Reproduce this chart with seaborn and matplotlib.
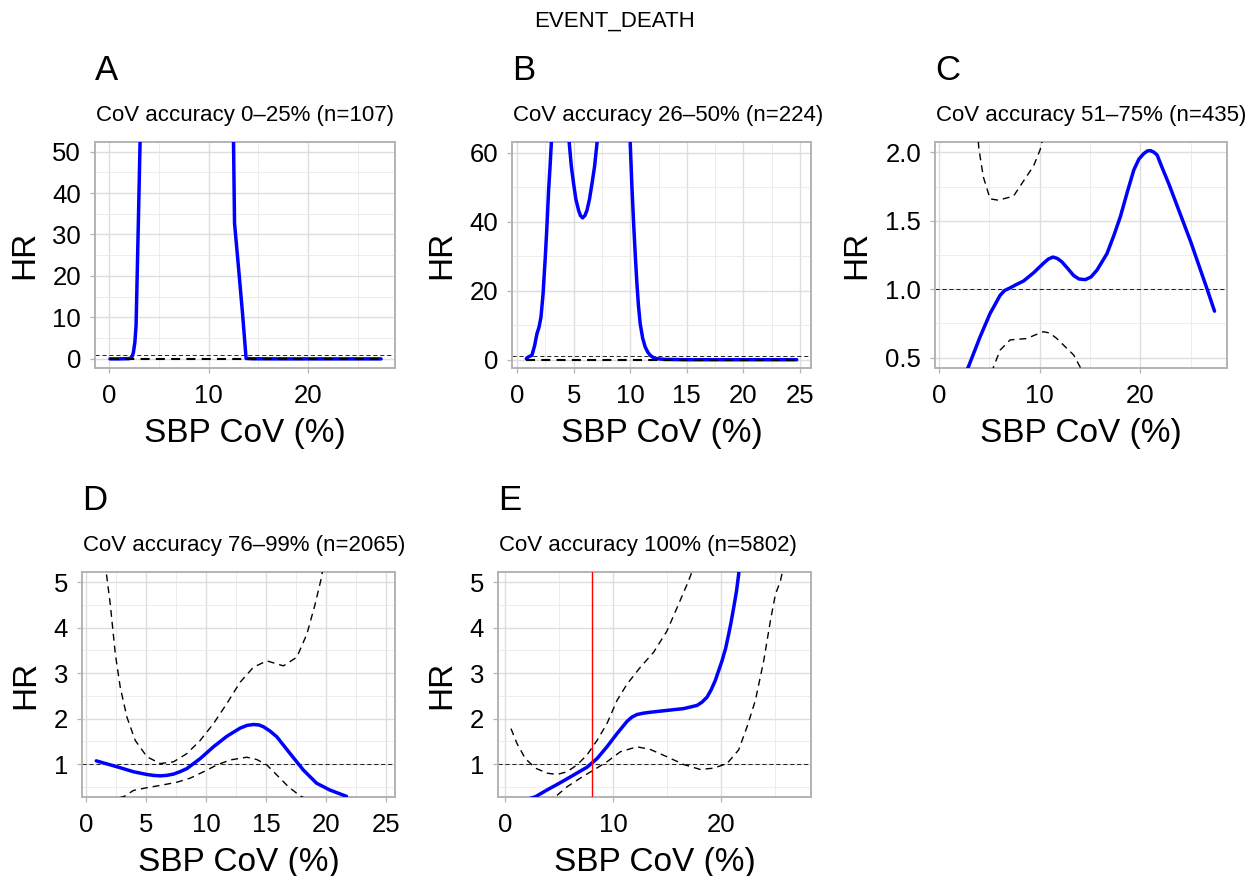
import numpy as np
import pandas as pd
import matplotlib
matplotlib.use("Agg")
import matplotlib.pyplot as plt
from matplotlib.ticker import MultipleLocator
import seaborn as sns

# ---------------- data ----------------
titles = ["CoV accuracy 0\u201325% (n=107)", "CoV accuracy 26\u201350% (n=224)",
          "CoV accuracy 51\u201375% (n=435)", "CoV accuracy 76\u201399% (n=2065)",
          "CoV accuracy 100% (n=5802)"]
letters = ["A", "B", "C", "D", "E"]

# Panel A
a_x = [0.1, 1.0, 2.0, 2.28, 2.45, 2.6, 2.72, 2.85, 2.95, 3.12, 3.4, 5.0, 8.0, 11.0, 12.3, 12.5, 12.6, 13.0, 13.4, 13.76, 14.5, 18.0, 22.0, 27.3]
a_hr = [0.0, 0.0, 0.05, 0.3, 1.5, 4.0, 8.0, 22.0, 33.0, 52.0, 150.0, 600.0, 900.0, 400.0, 90.0, 52.0, 32.7, 22.0, 11.0, 0.1, 0.02, 0.0, 0.0, 0.0]
a_lo_x = [0.1, 27.3]
a_lo = [0.0, 0.0]

# Panel B
b_x = [0.82, 1.0, 1.32, 1.55, 1.76, 1.95, 2.12, 2.3, 2.5, 2.65, 2.79, 2.92, 3.03, 3.4, 3.8, 4.2,
       4.62, 4.8, 5.0, 5.2, 5.44, 5.6, 5.79, 6.0, 6.18, 6.4, 6.62, 6.85, 7.06, 7.6, 8.5, 9.4,
       10.0, 10.15, 10.3, 10.45, 10.59, 10.73, 10.88, 11.1, 11.32, 11.55, 11.76, 12.0, 12.35, 13.0, 15.0, 20.0, 24.7]
b_hr = [0.3, 0.8, 1.3, 4.0, 7.5, 9.5, 12.4, 19.0, 29.8, 39.0, 49.0, 56.0, 62.6, 80.0, 90.0, 80.0,
        62.6, 56.0, 51.0, 46.5, 43.3, 41.8, 41.1, 41.8, 43.3, 46.5, 51.0, 56.0, 62.6, 120.0, 250.0, 150.0,
        62.6, 50.0, 39.4, 30.0, 22.0, 15.5, 10.4, 6.2, 3.7, 2.2, 1.3, 0.7, 0.3, 0.1, 0.0, 0.0, 0.0]
b_lo_x = [0.82, 24.7]
b_lo = [0.0, 0.0]

# Panel C
c_x = [1.0, 2.92, 4.08, 5.07, 6.07, 6.5, 7.06, 7.7, 8.39, 9.39, 10.38, 10.85, 11.31, 11.75, 12.2, 12.8,
       13.37, 13.9, 14.53, 15.1, 15.69, 16.68, 17.35, 18.01, 18.7, 19.34, 19.85, 20.33, 20.7, 21.0, 21.35,
       21.66, 22.2, 22.82, 24.98, 26.63, 27.36]
c_hr = [0.15, 0.434, 0.653, 0.823, 0.956, 0.99, 1.01, 1.035, 1.06, 1.12, 1.19, 1.22, 1.235, 1.225, 1.20, 1.15,
        1.10, 1.075, 1.07, 1.09, 1.14, 1.26, 1.39, 1.53, 1.71, 1.87, 1.95, 1.99, 2.01, 2.012, 2.0,
        1.98, 1.88, 1.77, 1.35, 1.0, 0.84]
c_up_x = [1.0, 3.5, 3.75, 3.95, 4.4, 5.07, 5.9, 7.4, 8.39, 9.39, 10.05, 10.6, 15.0, 20.0, 27.36]
c_up = [4.0, 2.5, 2.25, 2.03, 1.82, 1.66, 1.65, 1.68, 1.79, 1.90, 2.02, 2.2, 3.0, 4.5, 6.0]
c_lo_x = [1.0, 5.0, 5.4, 6.07, 7.06, 8.72, 9.5, 10.38, 11.0, 11.7, 13.37, 14.03, 15.0, 20.0, 27.36]
c_lo = [0.1, 0.33, 0.43, 0.556, 0.63, 0.64, 0.665, 0.69, 0.68, 0.64, 0.52, 0.43, 0.33, 0.2, 0.1]

# Panel D
d_x = [0.83, 2.56, 3.94, 5.06, 5.6, 6.17, 6.7, 7.28, 7.8, 8.39, 9.5, 10.61, 11.72, 12.83, 13.4, 13.94,
       14.4, 14.78, 15.3, 15.89, 17.0, 18.1, 19.2, 20.3, 21.7]
d_hr = [1.07, 0.94, 0.83, 0.77, 0.75, 0.74, 0.75, 0.78, 0.83, 0.9, 1.12, 1.38, 1.61, 1.79, 1.85, 1.87,
        1.86, 1.82, 1.73, 1.6, 1.23, 0.87, 0.58, 0.43, 0.29]
d_up_x = [0.83, 1.2, 1.5, 1.67, 2.0, 2.42, 2.83, 3.39, 4.08, 5.06, 6.17, 7.28, 8.39, 9.5, 10.61, 11.72,
          12.83, 13.94, 15.06, 16.44, 17.56, 18.4, 19.08, 19.64, 20.5, 21.7]
d_up = [12.0, 8.0, 6.0, 5.2, 4.51, 3.42, 2.69, 2.03, 1.52, 1.16, 1.01, 1.05, 1.23, 1.52, 1.89, 2.33,
        2.80, 3.13, 3.27, 3.16, 3.35, 3.86, 4.51, 5.13, 7.0, 12.0]
d_lo_x = [0.83, 2.0, 3.17, 3.94, 5.06, 6.17, 7.56, 8.67, 9.78, 10.89, 12.0, 13.39, 14.22, 15.06, 15.89,
          16.86, 17.83, 19.0, 21.7]
d_lo = [0.1, 0.2, 0.29, 0.42, 0.48, 0.53, 0.6, 0.69, 0.83, 0.98, 1.09, 1.15, 1.1, 0.98, 0.76,
        0.5, 0.30, 0.15, 0.05]

# Panel E
e_x = [0.6, 2.78, 3.86, 5.09, 6.33, 7.56, 8.49, 9.41, 10.34, 11.27, 11.7, 12.19, 12.8, 13.43, 14.97,
       16.51, 17.75, 18.2, 18.67, 19.05, 19.44, 20.06, 20.4, 20.68, 20.9, 21.14, 21.4, 21.6, 22.2, 25.9]
e_hr = [0.12, 0.28, 0.43, 0.59, 0.76, 0.93, 1.12, 1.38, 1.67, 1.94, 2.03, 2.09, 2.12, 2.14, 2.18,
        2.22, 2.29, 2.36, 2.47, 2.63, 2.84, 3.27, 3.55, 3.86, 4.12, 4.44, 4.8, 5.17, 7.0, 20.0]
e_up_x = [0.52, 1.08, 1.85, 2.78, 3.86, 4.78, 5.71, 6.64, 7.56, 8.49, 9.41, 10.34, 11.27, 12.5, 13.73,
          14.97, 15.9, 16.82, 17.19, 18.0, 20.0, 25.9]
e_up = [1.78, 1.45, 1.12, 0.91, 0.80, 0.77, 0.83, 0.98, 1.2, 1.52, 1.89, 2.40, 2.76, 3.13, 3.46,
        3.93, 4.44, 4.95, 5.17, 6.0, 9.0, 30.0]
e_lo_x = [0.52, 3.0, 4.63, 5.71, 6.94, 8.18, 9.41, 10.65, 12.19, 13.43, 14.97, 16.51, 18.06, 19.29,
          20.52, 21.6, 22.38, 23.15, 23.92, 24.54, 25.0, 25.46, 25.9]
e_lo = [0.05, 0.18, 0.28, 0.5, 0.69, 0.87, 1.05, 1.27, 1.38, 1.32, 1.16, 0.99, 0.88, 0.91,
        1.01, 1.31, 1.82, 2.4, 3.27, 4.15, 4.73, 5.02, 5.5]
e_cut = 8.0

panels = [
    dict(x=a_x, hr=a_hr, up=None, lo=(a_lo_x, a_lo), xlim=(-1.4, 28.7), ylim=(-2.2, 52.3),
         xmaj=10, xmin=5, ymaj=10, ymin=5, yfmt="{:.0f}", flat_ci=True),
    dict(x=b_x, hr=b_hr, up=None, lo=(b_lo_x, b_lo), xlim=(-0.44, 25.96), ylim=(-2.4, 63.1),
         xmaj=5, xmin=2.5, ymaj=20, ymin=10, yfmt="{:.0f}", flat_ci=True),
    dict(x=c_x, hr=c_hr, up=(c_up_x, c_up), lo=(c_lo_x, c_lo), xlim=(-0.4, 28.6), ylim=(0.425, 2.075),
         xmaj=10, xmin=5, ymaj=0.5, ymin=0.25, yfmt="{:.1f}", flat_ci=False),
    dict(x=d_x, hr=d_hr, up=(d_up_x, d_up), lo=(d_lo_x, d_lo), xlim=(-0.36, 25.75), ylim=(0.275, 5.225),
         xmaj=5, xmin=2.5, ymaj=1, ymin=0.5, yfmt="{:.0f}", flat_ci=False),
    dict(x=e_x, hr=e_hr, up=(e_up_x, e_up), lo=(e_lo_x, e_lo), xlim=(-0.68, 28.3), ylim=(0.275, 5.225),
         xmaj=10, xmin=5, ymaj=1, ymin=0.5, yfmt="{:.0f}", flat_ci=False),
]

# ---------------- style ----------------
sns.set_theme(style="white")
plt.rcParams['font.family'] = ['Liberation Sans', 'DejaVu Sans']
plt.rcParams['lines.scale_dashes'] = False
plt.rcParams['text.color'] = 'black'
plt.rcParams['axes.labelcolor'] = 'black'

W, H = 1255, 876
fig = plt.figure(figsize=(W / 100, H / 100), dpi=100)

# axes boxes in pixels: left, top, right, bottom
boxes = [(95, 142, 395, 368), (512, 142, 811, 368), (935, 142, 1227, 368),
         (82, 572, 395, 797), (498, 572, 811, 797)]

grey70 = "#B3B3B3"
ci_style = (0, (5.0, 3.6))
ci_flat_style = (0, (6.5, 4.5))
ref_style = (0, (3.0, 2.0))

for i, (p, box) in enumerate(zip(panels, boxes)):
    l, t, r, b = box
    ax = fig.add_axes([l / W, 1 - b / H, (r - l) / W, (b - t) / H])
    ax.set_xlim(*p["xlim"])
    ax.set_ylim(*p["ylim"])
    ax.xaxis.set_major_locator(MultipleLocator(p["xmaj"]))
    ax.xaxis.set_minor_locator(MultipleLocator(p["xmin"]))
    ax.yaxis.set_major_locator(MultipleLocator(p["ymaj"]))
    ax.yaxis.set_minor_locator(MultipleLocator(p["ymin"]))
    ax.grid(which="major", color="#DEDEDE", lw=1.0, zorder=0)
    ax.grid(which="minor", color="#E9E9E9", lw=0.6, zorder=0)
    ax.set_axisbelow(True)
    fmt = p["yfmt"]
    ax.yaxis.set_major_formatter(matplotlib.ticker.FuncFormatter(lambda v, pos, f=fmt: f.format(v)))
    ax.xaxis.set_major_formatter(matplotlib.ticker.FuncFormatter(lambda v, pos: "{:.0f}".format(v)))

    # reference HR = 1
    ax.axhline(1.0, color="black", lw=0.6, linestyle=ref_style, zorder=2)

    df = pd.DataFrame({"SBP CoV (%)": p["x"], "HR": p["hr"]})
    sns.lineplot(data=df, x="SBP CoV (%)", y="HR", ax=ax, color="#0000FF", lw=2.5,
                 estimator=None, sort=False, zorder=3)
    for ci in (p["up"], p["lo"]):
        if ci is None:
            continue
        dci = pd.DataFrame({"SBP CoV (%)": ci[0], "HR": ci[1]})
        if p["flat_ci"]:
            sns.lineplot(data=dci, x="SBP CoV (%)", y="HR", ax=ax, color="black", lw=1.5,
                         linestyle=ci_flat_style, estimator=None, sort=False, zorder=4)
        else:
            sns.lineplot(data=dci, x="SBP CoV (%)", y="HR", ax=ax, color="black", lw=1.0,
                         linestyle=ci_style, estimator=None, sort=False, zorder=4)
    if i == 4:
        ax.axvline(e_cut, color="red", lw=1.0, zorder=5)

    for s in ax.spines.values():
        s.set_visible(True)
        s.set_color(grey70)
        s.set_linewidth(1.4)
    ax.tick_params(which="major", direction="out", length=3.5, width=0.9, color=grey70,
                   labelsize=18.5, labelcolor="black", pad=8, bottom=True, left=True)
    ax.tick_params(which="minor", length=0)
    ax.tick_params(axis="y", pad=6.5)
    ax.set_xlabel("SBP CoV (%)", fontsize=24, labelpad=7, color="black")
    ax.set_ylabel("HR", fontsize=24, labelpad=9, color="black")

    # subtitle and panel letter
    row_off = 0 if t < 400 else 430
    fig.text((l + 1) / W, 1 - (121 + row_off) / H, titles[i], fontsize=16,
             ha="left", va="baseline", color="black")
    fig.text((l) / W, 1 - (80 + row_off) / H, letters[i], fontsize=25,
             ha="left", va="baseline", color="black")

fig.text(615 / W, 1 - 27 / H, "EVENT_DEATH", fontsize=16, ha="center", va="baseline", color="black")

fig.savefig("out.png", dpi=100)
